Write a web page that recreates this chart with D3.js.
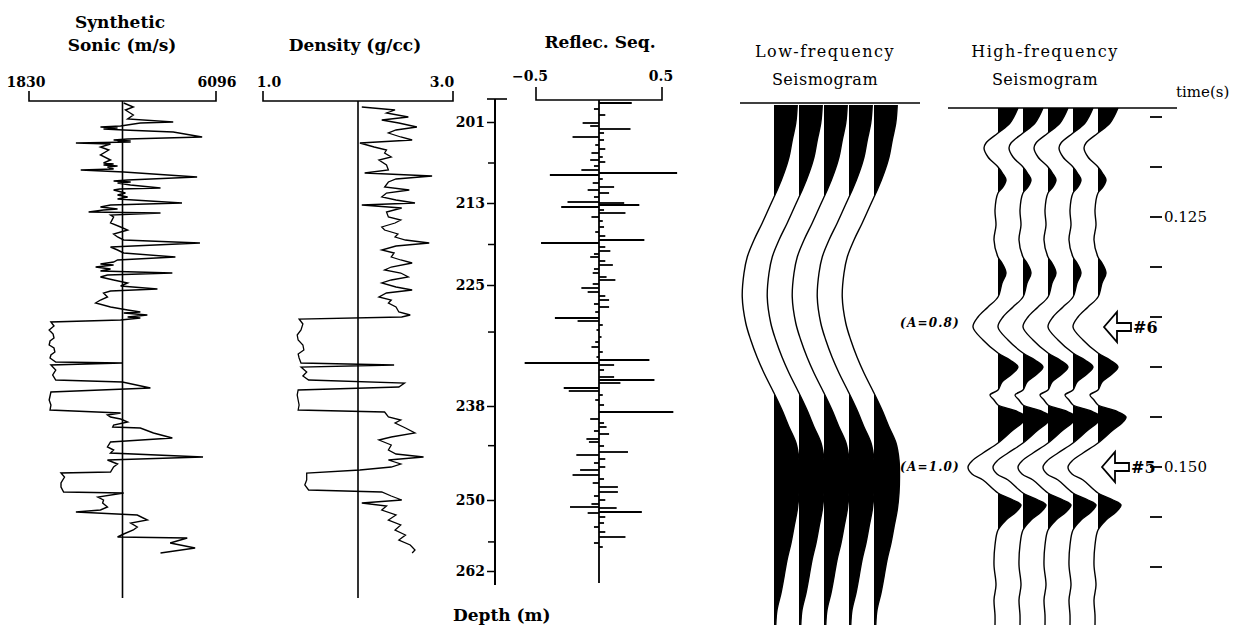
<!DOCTYPE html>
<html>
<head>
<meta charset="utf-8">
<script src="https://cdnjs.cloudflare.com/ajax/libs/d3/7.8.5/d3.min.js"></script>
<style>
body { margin: 0; background: #fff; }
text { font-family: "DejaVu Serif", serif; fill: #000; }
</style>
</head>
<body>
<svg id="chart" width="1240" height="627"></svg>
<script>
// all vertical positions are two-way time in ms

// synthetic sonic log [time ms, velocity m/s]
var sonicLog = [
  [113.6,3990],[114.0,4210],[114.3,4030],[114.8,4210],[115.2,4080],[115.5,5120],[115.6,4370],[115.9,3920],
  [116.0,3460],[116.1,3850],[116.2,3530],[116.3,3990],[116.5,5120],[117.0,5780],[117.2,4080],[117.3,3760],
  [117.4,4150],[117.45,3850],[117.5,4150],[117.6,2900],[117.7,3690],[118.0,3460],[118.3,3650],[118.8,3460],
  [119.3,3690],[119.6,3530],[119.7,3760],[119.8,3530],[119.9,3850],[120.0,3620],[120.2,3760],[120.3,3010],
  [120.5,3990],[121.0,5665],[121.3,4080],[121.4,3760],[121.5,4150],[121.6,3850],[121.8,4145],[122.1,4830],
  [122.2,3900],[122.3,3760],[122.6,4030],[122.8,3850],[123.0,4080],[123.2,3850],[123.6,5320],[123.8,3690],
  [124.0,3460],[124.2,3850],[124.3,3530],[124.5,3190],[124.6,4830],[124.8,3690],[125.0,3760],[125.6,3690],
  [126.0,3920],[126.3,4080],[126.7,3760],[127.0,3850],[127.3,3990],[127.6,5730],[128.0,3690],[128.3,3850],
  [128.6,3990],[129.0,5170],[129.3,3850],[129.5,3760],[129.7,3460],[129.8,3760],[130.0,3350],[130.2,3690],
  [130.4,3460],[130.6,5100],[130.8,3620],[131.0,3460],[131.3,3760],[131.6,4080],[131.9,3920],[132.2,4760],
  [132.4,3690],[132.6,3530],[133.0,3620],[133.3,3460],[133.6,3350],[134.0,3690],[134.3,4080],[134.5,4370],
  [134.6,3990],[134.8,4530],[135.0,4080],[135.1,4370],[135.3,3920],[135.5,2330],[135.9,2400],[136.3,2290],
  [136.7,2380],[137.1,2400],[137.4,2310],[137.8,2290],[138.1,2400],[138.5,2420],[138.8,2330],[139.1,2310],
  [139.5,2440],[139.6,3960],[139.8,2330],[140.3,2440],[140.8,2370],[141.3,2440],[141.5,3960],[142.1,4600],
  [142.5,2330],[143.3,2290],[143.8,2330],[144.3,2310],[144.6,3920],[144.8,3620],[145.0,3690],[145.2,3920],
  [145.5,4080],[145.8,3760],[146.0,3740],[146.1,4370],[146.6,4670],[147.1,5100],[147.5,3690],[148.0,3620],
  [148.3,3760],[148.6,3690],[149.0,5800],[149.3,3620],[149.7,3850],[150.0,3760],[150.5,3690],[150.6,2560],
  [151.0,2640],[151.3,2600],[151.6,2560],[152.0,2560],[152.5,2620],[152.6,3990],[153.0,3400],[153.3,3530],
  [153.6,3510],[154.0,3620],[154.3,3460],[154.5,2900],[154.8,4300],[155.3,4530],[155.6,4150],[156.0,4300],
  [156.3,4210],[156.7,3990],[157.0,3850],[157.1,5440],[157.6,5050],[158.1,5620],[158.6,4830]
];

// density log [time ms, g/cc]
var densityLog = [
  [114.0,2.04],[114.3,2.39],[114.6,2.30],[115.0,2.53],[115.3,2.25],[115.6,2.43],[116.0,2.62],[116.3,2.40],
  [116.6,2.32],[117.0,2.45],[117.3,2.57],[117.6,2.02],[118.0,2.17],[118.3,2.30],[118.6,2.28],[119.0,2.35],
  [119.3,2.22],[119.8,2.30],[120.3,2.32],[120.6,2.07],[120.9,2.78],[121.2,2.40],[121.5,2.32],[122.0,2.28],
  [122.3,2.54],[122.6,2.30],[123.0,2.25],[123.3,2.40],[123.6,2.60],[123.8,2.04],[124.1,2.46],[124.5,2.30],
  [125.0,2.32],[125.3,2.45],[125.6,2.39],[126.0,2.25],[126.3,2.28],[126.7,2.42],[127.0,2.39],[127.3,2.50],
  [127.6,2.75],[127.9,2.40],[128.3,2.25],[128.6,2.38],[129.0,2.35],[129.3,2.45],[129.6,2.57],[130.0,2.35],
  [130.3,2.28],[130.6,2.45],[131.0,2.53],[131.3,2.35],[131.6,2.25],[132.0,2.40],[132.3,2.57],[132.6,2.30],
  [133.0,2.22],[133.3,2.35],[133.6,2.32],[134.0,2.40],[134.5,2.43],[134.8,2.55],[135.0,2.46],[135.2,1.38],
  [135.7,1.42],[136.3,1.40],[136.8,1.36],[137.3,1.37],[137.8,1.42],[138.3,1.43],[138.7,1.37],[139.1,1.38],
  [139.6,1.40],[139.8,2.38],[140.0,1.40],[140.5,1.46],[140.9,1.42],[141.3,1.48],[141.6,2.49],[142.0,2.43],
  [142.3,1.37],[142.8,1.36],[143.3,1.37],[143.8,1.38],[144.3,1.37],[144.5,2.28],[145.0,2.32],[145.3,2.45],
  [145.6,2.39],[146.1,2.50],[146.6,2.60],[147.0,2.35],[147.3,2.22],[147.8,2.35],[148.3,2.32],[148.7,2.40],
  [149.0,2.69],[149.3,2.32],[149.7,2.45],[150.0,2.35],[150.3,2.02],[150.6,1.46],[151.3,1.46],[151.8,1.44],
  [152.3,1.48],[152.5,2.25],[152.9,2.35],[153.3,2.46],[153.6,2.04],[153.9,2.30],[154.3,2.25],[154.8,2.40],
  [155.3,2.32],[155.8,2.45],[156.3,2.39],[156.8,2.50],[157.3,2.43],[157.8,2.55],[158.3,2.60],[158.6,2.57]
];

// reflection coefficients [time ms, r]
var reflecSeq = [
  [113.6,0.26],[114.2,-0.04],[114.8,0.05],[115.6,-0.13],[115.9,-0.07],[116.2,0.25],[116.6,0.04],[117.0,-0.21],
  [117.3,0.04],[117.8,-0.03],[118.2,0.05],[118.6,-0.06],[119.0,0.03],[119.3,-0.07],[119.5,0.05],[119.9,-0.04],
  [120.3,-0.14],[120.6,0.62],[120.8,-0.39],[121.2,0.03],[121.6,-0.05],[122.0,0.12],[122.3,-0.09],[122.6,0.08],
  [123.0,-0.04],[123.5,-0.25],[123.6,0.20],[123.8,0.32],[124.0,-0.30],[124.3,0.04],[124.6,0.21],[125.0,-0.06],
  [125.4,0.03],[126.0,0.04],[126.5,-0.03],[126.9,0.05],[127.3,0.36],[127.6,-0.46],[128.0,0.05],[128.4,0.09],
  [128.7,-0.04],[129.0,-0.07],[129.4,0.05],[129.8,0.11],[130.2,-0.04],[130.6,-0.05],[131.0,0.06],[131.3,0.13],
  [131.7,-0.05],[132.1,-0.14],[132.5,-0.09],[132.9,0.05],[133.3,0.08],[133.7,-0.04],[134.0,0.08],[134.5,-0.03],
  [135.1,-0.35],[135.4,-0.17],[135.8,0.03],[136.3,-0.02],[137.0,0.02],[137.5,-0.03],[138.0,-0.06],[138.5,0.03],
  [139.0,-0.02],[139.3,0.40],[139.6,-0.59],[139.8,0.12],[140.3,0.04],[141.0,0.12],[141.3,0.44],[141.6,0.17],
  [142.1,-0.28],[142.4,-0.24],[142.8,0.03],[143.3,-0.03],[143.8,0.04],[144.5,0.59],[145.2,-0.07],[145.6,0.04],
  [146.0,0.06],[146.4,-0.04],[146.7,0.08],[147.2,-0.10],[147.5,-0.08],[147.9,0.04],[148.5,0.23],[148.8,-0.18],
  [149.2,0.05],[149.6,-0.04],[150.0,0.05],[150.3,-0.15],[150.8,-0.21],[151.2,0.04],[151.6,-0.05],[152.0,0.15],
  [152.5,0.15],[152.9,-0.04],[153.3,0.05],[153.7,-0.06],[154.0,-0.23],[154.1,0.14],[154.5,0.34],[154.6,-0.09],
  [155.0,0.05],[155.6,0.04],[156.0,-0.04],[156.5,0.05],[157.0,0.21],[157.6,-0.04],[158.0,0.03],[158.3,0.0]
];

// depth axis: labelled depths (m) and the times they sit at
var depthTicks = [201, 213, 225, 238, 250, 262];
var depthTickTimes = [115.5, 123.6, 131.8, 143.9, 153.3, 160.4];
var depthMinor = [207, 219, 230, 243, 257];

// seismogram wavelets [time ms, amplitude in trace spacings]
var lowFreqTrace = [
  [113.8,0.93],[115.6,0.87],[117.3,0.73],[119.0,0.60],[120.6,0.40],[122.3,0.13],[123.0,0.0],[125.6,-0.47],
  [127.3,-0.80],[129.0,-1.07],[130.6,-1.20],[133.0,-1.27],[135.6,-1.13],[137.3,-0.93],[139.0,-0.68],[140.6,-0.40],
  [142.6,0.0],[144.3,0.32],[146.0,0.60],[147.6,0.88],[149.3,1.0],[151.0,1.02],[152.6,1.0],[154.3,0.93],
  [156.0,0.80],[157.6,0.68],[159.3,0.52],[161.0,0.40],[162.6,0.28],[164.3,0.12],[165.8,0.07]
];
var highFreqTrace = [
  [114.1,0.80],[115.6,0.48],[116.6,0.0],[117.6,-0.48],[118.1,-0.56],[119.0,-0.40],[120.0,0.0],[120.7,0.20],
  [121.3,0.32],[122.0,0.20],[122.6,0.0],[124.3,-0.12],[125.8,-0.08],[127.3,-0.16],[129.0,0.0],[129.6,0.16],
  [130.6,0.32],[131.6,0.16],[133.0,0.0],[134.0,-0.40],[135.0,-0.80],[136.0,-1.0],[137.3,-0.60],[138.6,0.0],
  [139.3,0.48],[140.0,0.80],[140.7,0.56],[141.5,0.16],[142.3,0.0],[142.8,-0.32],[143.3,-0.16],[143.8,0.0],
  [144.4,0.72],[145.0,1.12],[145.6,0.96],[146.3,0.60],[147.6,0.0],[148.6,-0.60],[149.4,-1.04],[150.0,-1.20],
  [150.7,-1.04],[151.3,-0.60],[152.6,0.0],[153.3,0.60],[153.8,0.92],[154.5,0.72],[155.3,0.32],[156.3,0.0],
  [157.8,-0.12],[159.8,-0.16],[161.8,-0.08],[163.3,-0.16],[164.8,-0.12],[165.8,-0.12]
];
var traceIds = [1, 2, 3, 4, 5];

// time axis (ms)
var timeTicks = [115, 120, 125, 130, 135, 140, 145, 150, 155, 160];
var timeLabels = [125, 150];

// marked events
var eventNames = ["#6", "#5"];
var eventTimes = [136.0, 150.0];
var eventAmps = ["(A=0.8)", "(A=1.0)"];

var svg = d3.select("#chart");

var y = d3.scaleLinear().domain([113.3, 165.8]).range([100, 625]);

function drawBracket(x, lo, hi, top, bottom) {
  svg.append("path")
    .attr("d", "M" + x(lo) + "," + top + "V" + bottom + "H" + x(hi) + "V" + top)
    .attr("fill", "none").attr("stroke", "#000").attr("stroke-width", 1.6);
}

// ---- sonic ----
var xSonic = d3.scaleLinear().domain([1830, 6096]).range([29, 216]);
svg.append("text").attr("x", 120).attr("y", 28).attr("text-anchor", "middle")
  .attr("font-size", 17).attr("font-weight", "bold").text("Synthetic");
svg.append("text").attr("x", 122).attr("y", 51).attr("text-anchor", "middle")
  .attr("font-size", 17).attr("font-weight", "bold").text("Sonic (m/s)");
svg.append("text").attr("x", 26).attr("y", 87).attr("text-anchor", "middle")
  .attr("font-size", 14).attr("font-weight", "bold").text("1830");
svg.append("text").attr("x", 217).attr("y", 87).attr("text-anchor", "middle")
  .attr("font-size", 14).attr("font-weight", "bold").text("6096");
drawBracket(xSonic, 1830, 6096, 91, 101);
svg.append("line").attr("x1", xSonic(3963)).attr("x2", xSonic(3963))
  .attr("y1", 101).attr("y2", 598).attr("stroke", "#000").attr("stroke-width", 1.6);
svg.append("path").datum(sonicLog)
  .attr("d", d3.line().x(function(d) { return xSonic(d[1]); }).y(function(d) { return y(d[0]); }))
  .attr("fill", "none").attr("stroke", "#000").attr("stroke-width", 1.4);

// ---- density ----
var xDens = d3.scaleLinear().domain([1, 3]).range([263, 453]);
svg.append("text").attr("x", 355).attr("y", 51).attr("text-anchor", "middle")
  .attr("font-size", 17).attr("font-weight", "bold").text("Density (g/cc)");
svg.append("text").attr("x", 269).attr("y", 87).attr("text-anchor", "middle")
  .attr("font-size", 14).attr("font-weight", "bold").text("1.0");
svg.append("text").attr("x", 442).attr("y", 87).attr("text-anchor", "middle")
  .attr("font-size", 14).attr("font-weight", "bold").text("3.0");
drawBracket(xDens, 1, 3, 91, 101);
svg.append("line").attr("x1", xDens(2)).attr("x2", xDens(2))
  .attr("y1", 101).attr("y2", 598).attr("stroke", "#000").attr("stroke-width", 1.6);
svg.append("path").datum(densityLog)
  .attr("d", d3.line().x(function(d) { return xDens(d[1]); }).y(function(d) { return y(d[0]); }))
  .attr("fill", "none").attr("stroke", "#000").attr("stroke-width", 1.3);

// ---- depth axis ----
var yDepth = d3.scaleLinear().domain(depthTicks).range(depthTickTimes.map(y));
var axisX = 495;
svg.append("line").attr("x1", axisX).attr("x2", axisX).attr("y1", y(113.2)).attr("y2", y(161.8))
  .attr("stroke", "#000").attr("stroke-width", 2);
svg.append("line").attr("x1", axisX - 8).attr("x2", axisX + 12).attr("y1", y(113.2)).attr("y2", y(113.2))
  .attr("stroke", "#000").attr("stroke-width", 1.6);
var gDepth = svg.append("g").attr("transform", "translate(" + axisX + ",0)")
  .call(d3.axisLeft(yDepth).tickValues(depthTicks).tickSize(8).tickSizeOuter(0).tickPadding(2));
gDepth.select(".domain").remove();
gDepth.selectAll("line").attr("stroke-width", 1.5);
gDepth.selectAll("text").attr("font-family", "DejaVu Serif").attr("font-size", 14).attr("font-weight", "bold");
var gMinor = svg.append("g").attr("transform", "translate(" + axisX + ",0)")
  .call(d3.axisLeft(yDepth).tickValues(depthMinor).tickSize(7).tickSizeOuter(0).tickFormat(""));
gMinor.select(".domain").remove();
gMinor.selectAll("line").attr("stroke-width", 1.5);
svg.append("text").attr("x", 453).attr("y", 621)
  .attr("font-size", 17).attr("font-weight", "bold").text("Depth (m)");

// ---- reflection sequence ----
var xRef = d3.scaleLinear().domain([-0.5, 0.5]).range([536, 662]);
svg.append("text").attr("x", 600).attr("y", 48).attr("text-anchor", "middle")
  .attr("font-size", 17).attr("font-weight", "bold").text("Reflec. Seq.");
svg.append("text").attr("x", 530).attr("y", 81).attr("text-anchor", "middle")
  .attr("font-size", 14).attr("font-weight", "bold").text("\u22120.5");
svg.append("text").attr("x", 661).attr("y", 81).attr("text-anchor", "middle")
  .attr("font-size", 14).attr("font-weight", "bold").text("0.5");
drawBracket(xRef, -0.5, 0.5, 87, 100);
svg.append("line").attr("x1", xRef(0)).attr("x2", xRef(0))
  .attr("y1", 100).attr("y2", y(161.6)).attr("stroke", "#000").attr("stroke-width", 1.8);
svg.append("g").selectAll("line").data(reflecSeq).enter().append("line")
  .attr("x1", xRef(0)).attr("x2", function(d) { return xRef(d[1]); })
  .attr("y1", function(d) { return y(d[0]); }).attr("y2", function(d) { return y(d[0]); })
  .attr("stroke", "#000").attr("stroke-width", 1.8);

// ---- seismograms ----
var ampScale = d3.scaleLinear().domain([0, 1]).range([0, 25]);
var defs = svg.append("defs");

function drawSeismogram(name, trace, x, title1, title2, titleX, lineX0, lineX1, lineY) {
  svg.append("text").attr("x", titleX).attr("y", 57).attr("text-anchor", "middle")
    .attr("font-size", 16).attr("letter-spacing", 1.5).text(title1);
  svg.append("text").attr("x", titleX).attr("y", 85).attr("text-anchor", "middle")
    .attr("font-size", 16).attr("letter-spacing", 0.5).text(title2);
  svg.append("line").attr("x1", lineX0).attr("x2", lineX1).attr("y1", lineY).attr("y2", lineY)
    .attr("stroke", "#000").attr("stroke-width", 1.5);

  traceIds.forEach(function(id) {
    var base = x(id);
    var clipId = name + "clip" + id;
    defs.append("clipPath").attr("id", clipId)
      .append("rect").attr("x", base).attr("y", 0).attr("width", 80).attr("height", 627);
    var area = d3.area()
      .x0(base)
      .x1(function(d) { return base + ampScale(d[1]); })
      .y(function(d) { return y(d[0]); })
      .curve(d3.curveCatmullRom);
    var wiggle = d3.line()
      .x(function(d) { return base + ampScale(d[1]); })
      .y(function(d) { return y(d[0]); })
      .curve(d3.curveCatmullRom);
    svg.append("path").datum(trace).attr("d", area)
      .attr("fill", "#000").attr("clip-path", "url(#" + clipId + ")");
    svg.append("path").datum(trace).attr("d", wiggle)
      .attr("fill", "none").attr("stroke", "#000").attr("stroke-width", 1.4);
  });
}

var xLow = d3.scalePoint().domain(traceIds).range([774, 874]);
drawSeismogram("low", lowFreqTrace, xLow, "Low-frequency", "Seismogram", 825, 740, 920, 103);

var xHigh = d3.scalePoint().domain(traceIds).range([998, 1098]);
drawSeismogram("high", highFreqTrace, xHigh, "High-frequency", "Seismogram", 1045, 948, 1177, 108);

// ---- time axis ----
svg.append("text").attr("x", 1176).attr("y", 97).attr("font-size", 15).text("time(s)");
svg.append("g").selectAll("line").data(timeTicks).enter().append("line")
  .attr("x1", 1150).attr("x2", 1162)
  .attr("y1", function(d) { return y(d); }).attr("y2", function(d) { return y(d); })
  .attr("stroke", "#000").attr("stroke-width", 1.8);
svg.append("g").selectAll("text").data(timeLabels).enter().append("text")
  .attr("x", 1164).attr("y", function(d) { return y(d); }).attr("dy", "0.35em")
  .attr("font-size", 15).text(function(d) { return d3.format(".3f")(d / 1000); });

// ---- event arrows ----
eventTimes.forEach(function(t, i) {
  var ty = y(t), tx = 1104 - i * 2;
  svg.append("path")
    .attr("d", "M" + tx + "," + ty + "l13,-15v11h14v8h-14v11z")
    .attr("fill", "#fff").attr("stroke", "#000").attr("stroke-width", 1.8).attr("stroke-linejoin", "miter");
  svg.append("text").attr("x", tx + 29).attr("y", ty).attr("dy", "0.35em")
    .attr("font-size", 16).attr("font-weight", "bold").text(eventNames[i]);
  svg.append("text").attr("x", 960).attr("y", ty - 4 * (1 - i)).attr("dy", "0.35em").attr("text-anchor", "end")
    .attr("font-family", "DejaVu Sans").attr("font-style", "italic").attr("font-weight", "bold")
    .attr("font-size", 12).attr("letter-spacing", 1.2).text(eventAmps[i]);
});
</script>
</body>
</html>
